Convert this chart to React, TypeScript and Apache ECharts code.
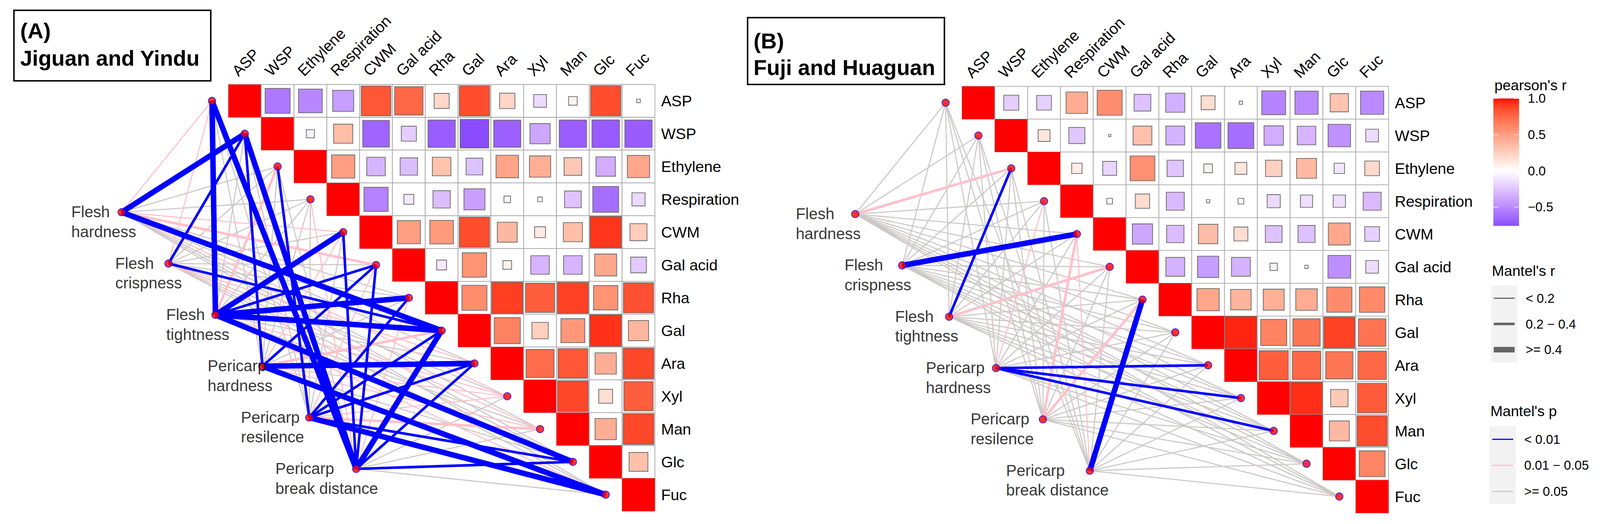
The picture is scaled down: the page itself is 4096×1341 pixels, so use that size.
import React, { useEffect, useRef } from 'react';
import * as echarts from 'echarts';

// ---------------- data ----------------
const VARS = ['ASP', 'WSP', 'Ethylene', 'Respiration', 'CWM', 'Gal acid', 'Rha', 'Gal', 'Ara', 'Xyl', 'Man', 'Glc', 'Fuc'];
const TRAITS = ['Flesh\nhardness', 'Flesh\ncrispness', 'Flesh\ntightness', 'Pericarp\nhardness', 'Pericarp\nresilence', 'Pericarp\nbreak distance'];

// upper triangle of Pearson's r (row i, columns i+1..12)
const CORR_A = [
  [-0.58, -0.52, -0.41, 0.82, 0.75, 0.21, 0.85, 0.22, -0.15, 0.07, 0.85, 0.012],
  [-0.06, 0.34, -0.66, -0.21, -0.69, -0.76, -0.68, -0.38, -0.69, -0.70, -0.69],
  [0.50, -0.32, -0.28, 0.32, -0.26, 0.47, 0.42, 0.29, -0.35, 0.46],
  [-0.54, -0.09, -0.28, -0.41, -0.04, 0.02, -0.26, -0.62, -0.16],
  [0.50, 0.52, 0.85, 0.37, 0.11, 0.34, 0.92, 0.27],
  [-0.09, 0.55, 0.07, -0.32, -0.32, 0.45, -0.23],
  [0.58, 0.90, 0.79, 0.89, 0.55, 0.84],
  [0.63, 0.25, 0.53, 0.93, 0.38],
  [0.73, 0.82, 0.42, 0.87],
  [0.87, 0.18, 0.79],
  [0.42, 0.87],
  [0.33],
];
const CORR_B = [
  [-0.21, -0.20, 0.43, 0.58, -0.26, -0.34, 0.18, 0.01, -0.53, -0.50, 0.31, -0.50],
  [0.13, -0.24, 0.005, 0.33, -0.33, -0.61, -0.62, -0.35, -0.32, -0.47, -0.15],
  [0.10, -0.18, 0.57, -0.25, 0.07, 0.13, 0.25, 0.37, -0.10, 0.2],
  [0.03, 0.19, -0.30, 0.01, 0.03, -0.16, -0.14, -0.14, -0.30],
  [-0.38, -0.28, 0.35, 0.18, -0.26, -0.27, 0.45, -0.20],
  [-0.33, -0.42, -0.33, -0.05, 0.01, -0.48, -0.15],
  [0.46, 0.39, 0.41, 0.43, 0.59, 0.60],
  [0.96, 0.63, 0.69, 0.89, 0.70],
  [0.79, 0.75, 0.69, 0.75],
  [0.94, 0.28, 0.80],
  [0.37, 0.85],
  [0.62],
];

// Mantel's p class per trait x variable: b = < 0.01, p = 0.01 - 0.05, g = >= 0.05
const MANTEL_P_A = [
  'pbggppgbgpggg',
  'pbgggggbpgpgg',
  'bgpgbbbbgpgbp',
  'gbggpbgpbppgb',
  'ggbggpbbbppbb',
  'bbgpbbpbbggbg',
];
// Mantel's r class: 1 = < 0.2, 2 = 0.2 - 0.4, 3 = >= 0.4
const MANTEL_R_A = [
  '1311121311111',
  '1211111211111',
  '3121323311131',
  '1211121231113',
  '1121112221223',
  '3311221321121',
];
const MANTEL_P_B = [
  'ggpgggggggggg',
  'ggggbgggggggg',
  'ggbggpggggggg',
  'gggpggggbbbgg',
  'ggggpgpgggggg',
  'ggggpgbgggggg',
];
const MANTEL_R_B = [
  '1121111111111',
  '1111311111111',
  '1121121111111',
  '1111111122211',
  '1111212111111',
  '1111113111111',
];

const PANEL_TAGS = ['(A)', '(B)'];
const PANEL_NAMES = ['Jiguan and Yindu', 'Fuji and Huaguan'];
const CBAR_TICKS = [1.0, 0.5, 0.0, -0.5];
const CBAR_LABELS = ['1.0', '0.5', '0.0', '\u22120.5'];
const R_CLASSES = ['< 0.2', '0.2 \u2212 0.4', '>= 0.4'];
const P_CLASSES = ['< 0.01', '0.01 \u2212 0.05', '>= 0.05'];

// ---------------- styling / layout ----------------
const S = 0.94;
const FONT = 'Liberation Sans, Arial, Helvetica, sans-serif';
const C = 89.35; // cell size (reference px)
const R_MIN = -0.76;
const PURPLE_END = '#8A4CFF';
const P_COLORS = ['#CDC8C8', '#FFC0CB', '#0000FF']; // g, p, b
const R_WIDTHS = [3, 7, 15];

const PANELS = [
  { left: 622, top: 230, box: [38, 28, 536, 192], tagY: 105, nameY: 180, textX: 55,
    labelDx: [-136, -144, -133, -148, -185, -219], corr: CORR_A, mp: MANTEL_P_A, mr: MANTEL_R_A },
  { left: 2620, top: 235, box: [2036, 48, 536, 182], tagY: 132, nameY: 205, textX: 2052,
    labelDx: [-161, -156, -146, -190, -196, -227], corr: CORR_B, mp: MANTEL_P_B, mr: MANTEL_R_B },
];

// ---------------- colour (Lab interpolation like ggplot) ----------------
function toLin(c: number) { c /= 255; return c <= 0.04045 ? c / 12.92 : Math.pow((c + 0.055) / 1.055, 2.4); }
function fromLin(c: number) {
  const v = c <= 0.0031308 ? 12.92 * c : 1.055 * Math.pow(c, 1 / 2.4) - 0.055;
  return Math.round(Math.min(1, Math.max(0, v)) * 255);
}
function hex2lab(hex: string) {
  const n = parseInt(hex.slice(1), 16);
  const r = toLin((n >> 16) & 255), g = toLin((n >> 8) & 255), b = toLin(n & 255);
  const X = (r * 0.4124564 + g * 0.3575761 + b * 0.1804375) / 0.95047;
  const Y = r * 0.2126729 + g * 0.7151522 + b * 0.072175;
  const Z = (r * 0.0193339 + g * 0.119192 + b * 0.9503041) / 1.08883;
  const f = (t: number) => (t > 216 / 24389 ? Math.cbrt(t) : ((24389 / 27) * t + 16) / 116);
  const fx = f(X), fy = f(Y), fz = f(Z);
  return [116 * fy - 16, 500 * (fx - fy), 200 * (fy - fz)];
}
function lab2css(l: number[]) {
  const fy = (l[0] + 16) / 116, fx = fy + l[1] / 500, fz = fy - l[2] / 200;
  const inv = (t: number) => (t * t * t > 216 / 24389 ? t * t * t : (116 * t - 16) / (24389 / 27));
  const X = inv(fx) * 0.95047, Y = inv(fy), Z = inv(fz) * 1.08883;
  const r = 3.2404542 * X - 1.5371385 * Y - 0.4985314 * Z;
  const g = -0.969266 * X + 1.8760108 * Y + 0.041556 * Z;
  const b = 0.0556434 * X - 0.2040259 * Y + 1.0572252 * Z;
  return 'rgb(' + fromLin(r) + ',' + fromLin(g) + ',' + fromLin(b) + ')';
}
const LAB_W = hex2lab('#FFFFFF');
const LAB_R = hex2lab('#FF0000');
const LAB_P = hex2lab(PURPLE_END);
function corrColor(r: number) {
  const end = r >= 0 ? LAB_R : LAB_P;
  const t = r >= 0 ? Math.min(1, r) : Math.min(1, r / R_MIN);
  return lab2css([0, 1, 2].map((i) => LAB_W[i] + (end[i] - LAB_W[i]) * t));
}

// trait node layout (cell units relative to the matrix's top-left corner)
const traitX = (k: number) => -3.255 + 1.43 * k;
const traitY = (k: number) => 3.893 + 1.564 * k;

function buildOption() {
  const grid: any[] = [], xAxis: any[] = [], yAxis: any[] = [], series: any[] = [], graphic: any[] = [];
  PANELS.forEach((P, p) => {
    const gMat = 2 * p, gNet = 2 * p + 1;
    grid.push({ left: P.left * S, top: P.top * S, width: 13 * C * S, height: 13 * C * S });
    grid.push({ left: (P.left - 4 * C) * S, top: P.top * S, width: 17 * C * S, height: 13 * C * S });
    xAxis.push({
      type: 'category', gridIndex: gMat, position: 'top', data: VARS,
      axisLine: { show: false }, axisTick: { show: false }, splitLine: { show: false },
      axisLabel: { show: false },
    });
    yAxis.push({
      type: 'category', gridIndex: gMat, position: 'right', inverse: true, data: VARS,
      axisLine: { show: false }, axisTick: { show: false }, splitLine: { show: false },
      axisLabel: { interval: 0, margin: 17 * S, fontSize: 42 * S, color: '#000', fontFamily: FONT },
    });
    xAxis.push({ type: 'value', gridIndex: gNet, min: -4, max: 13, show: false });
    yAxis.push({ type: 'value', gridIndex: gNet, min: 0, max: 13, inverse: true, show: false });

    // matrix cells
    const cells: any[] = [];
    for (let i = 0; i < 13; i++) {
      cells.push([i, i, 1]);
      for (let j = i + 1; j < 13; j++) cells.push([j, i, P.corr[i][j - i - 1]]);
    }
    series.push({
      type: 'custom', xAxisIndex: gMat, yAxisIndex: gMat, z: 2, data: cells,
      encode: { x: 0, y: 1 },
      renderItem: (params: any, api: any) => {
        const j = api.value(0), i = api.value(1), r = api.value(2);
        const c = api.coord([j, i]);
        const sz = api.size([1, 1]);
        const w = sz[0], h = sz[1];
        const side = Math.sqrt(Math.abs(r)) * w;
        const children: any[] = [
          { type: 'rect', shape: { x: c[0] - w / 2, y: c[1] - h / 2, width: w, height: h },
            style: { fill: '#FFFFFF', stroke: '#A8A8A8', lineWidth: 2 * S } },
        ];
        if (i === j) {
          children.push({ type: 'rect', shape: { x: c[0] - w / 2, y: c[1] - h / 2, width: w, height: h },
            style: { fill: corrColor(r) } });
        } else {
          children.push({ type: 'rect', shape: { x: c[0] - side / 2, y: c[1] - side / 2, width: side, height: side },
            style: { fill: corrColor(r), stroke: '#6A6A6A', lineWidth: 2 * S } });
        }
        return { type: 'group', children };
      },
    });

    // column labels (rotated 45 degrees, placed through the category axis)
    series.push({
      type: 'custom', xAxisIndex: gMat, yAxisIndex: gMat, z: 2, data: VARS.map((v, j) => [j, 0]),
      encode: { x: 0, y: 1 },
      renderItem: (params: any, api: any) => {
        const j = api.value(0);
        const c = api.coord([j, 0]);
        const sz = api.size([1, 1]);
        const top = c[1] - sz[1] / 2;
        return {
          type: 'text', x: c[0] - 13 * S, y: top - 16 * S, rotation: Math.PI / 4,
          style: { text: VARS[j], x: 0, y: 0, fontSize: 42 * S, fontFamily: FONT, fill: '#000',
            align: 'left', verticalAlign: 'bottom' },
        };
      },
    });

    // Mantel links
    const links: any[] = [];
    for (let k = 0; k < 6; k++) {
      for (let j = 0; j < 13; j++) {
        links.push([traitX(k), traitY(k), j - 0.5, j + 0.5, 'gpb'.indexOf(P.mp[k][j]), +P.mr[k][j] - 1]);
      }
    }
    links.sort((a, b) => (a[4] - b[4]) || (a[5] - b[5]));
    series.push({
      type: 'custom', xAxisIndex: gNet, yAxisIndex: gNet, z: 3, data: links,
      encode: { x: [0, 2], y: [1, 3] },
      renderItem: (params: any, api: any) => {
        const a = api.coord([api.value(0), api.value(1)]);
        const b = api.coord([api.value(2), api.value(3)]);
        return { type: 'line', shape: { x1: a[0], y1: a[1], x2: b[0], y2: b[1] },
          style: { stroke: P_COLORS[api.value(4)], lineWidth: R_WIDTHS[api.value(5)] * S, lineCap: 'butt' } };
      },
    });

    // nodes
    const nodes: any[] = [];
    for (let j = 0; j < 13; j++) nodes.push({ value: [j - 0.5, j + 0.5] });
    const LH = 54;
    for (let k = 0; k < 6; k++) {
      nodes.push({
        value: [traitX(k), traitY(k)],
        label: { show: true, formatter: TRAITS[k], position: [(P.labelDx[k] + 10) * S, (10 - LH / 2) * S],
          align: 'left', verticalAlign: 'top', lineHeight: LH * S, fontSize: 43 * S, color: '#000', fontFamily: FONT },
      });
    }
    series.push({
      type: 'scatter', xAxisIndex: gNet, yAxisIndex: gNet, z: 4, data: nodes,
      symbol: 'circle', symbolSize: 20 * S, silent: true,
      itemStyle: { color: '#FF0000', borderColor: '#0000FF', borderWidth: 2 * S },
      label: { show: false },
    });

    // title box
    const [bx, by, bw, bh] = P.box;
    graphic.push({ type: 'rect', shape: { x: bx * S, y: by * S, width: bw * S, height: bh * S },
      style: { fill: 'none', stroke: '#000', lineWidth: 4 * S } });
    graphic.push({ type: 'text', x: P.textX * S, y: (P.tagY - 21) * S,
      style: { text: PANEL_TAGS[p], font: `bold ${60 * S}px ${FONT}`, fill: '#000', align: 'left', verticalAlign: 'middle' } });
    graphic.push({ type: 'text', x: P.textX * S, y: (P.nameY - 21) * S,
      style: { text: PANEL_NAMES[p], font: `bold ${59 * S}px ${FONT}`, fill: '#000', align: 'left', verticalAlign: 'middle' } });
  });

  // ---------- legends ----------
  const txt = (x: number, y: number, t: string, fs: number) => ({
    type: 'text', x: x * S, y: y * S,
    style: { text: t, font: `${fs * S}px ${FONT}`, fill: '#000', align: 'left', verticalAlign: 'middle' },
  });
  const CB = { x: 4067, y: 268, w: 70, h: 347 };
  const stops: any[] = [];
  for (let s = 0; s <= 40; s++) {
    const v = 1 - (s / 40) * (1 - R_MIN);
    stops.push({ offset: s / 40, color: corrColor(v) });
  }
  graphic.push(txt(4070, 232, "pearson's r", 40));
  graphic.push({ type: 'rect', shape: { x: CB.x * S, y: CB.y * S, width: CB.w * S, height: CB.h * S },
    style: { fill: new echarts.graphic.LinearGradient(0, 0, 0, 1, stops) } });
  CBAR_TICKS.forEach((v, i) => {
    const y = CB.y + ((1 - v) / (1 - R_MIN)) * CB.h;
    graphic.push({ type: 'line', shape: { x1: (CB.x + CB.w - 14) * S, y1: y * S, x2: (CB.x + CB.w) * S, y2: y * S },
      style: { stroke: '#FFFFFF', lineWidth: 1.5 * S } });
    graphic.push({ type: 'line', shape: { x1: CB.x * S, y1: y * S, x2: (CB.x + 14) * S, y2: y * S },
      style: { stroke: '#FFFFFF', lineWidth: 1.5 * S } });
    graphic.push(txt(4161, y, CBAR_LABELS[i], 35));
  });

  graphic.push(txt(4063, 737, "Mantel's r", 40));
  graphic.push({ type: 'rect', shape: { x: 4061 * S, y: 777 * S, width: 71 * S, height: 210 * S }, style: { fill: '#F2F2F2' } });
  R_CLASSES.forEach((t, i) => {
    const y = 812 + 70 * i;
    graphic.push({ type: 'line', shape: { x1: 4068 * S, y1: y * S, x2: 4125 * S, y2: y * S },
      style: { stroke: '#666666', lineWidth: R_WIDTHS[i] * S } });
    graphic.push(txt(4155, y, t, 35));
  });

  graphic.push(txt(4059, 1119, "Mantel's p", 40));
  graphic.push({ type: 'rect', shape: { x: 4057 * S, y: 1160 * S, width: 71 * S, height: 212 * S }, style: { fill: '#F2F2F2' } });
  P_CLASSES.forEach((t, i) => {
    const y = 1196 + 71 * i;
    graphic.push({ type: 'line', shape: { x1: 4064 * S, y1: y * S, x2: 4121 * S, y2: y * S },
      style: { stroke: P_COLORS[2 - i], lineWidth: R_WIDTHS[0] * S } });
    graphic.push(txt(4151, y, t, 35));
  });

  return { animation: false, backgroundColor: '#FFFFFF', grid, xAxis, yAxis, series, graphic };
}

export default function App() {
  const ref = useRef<HTMLDivElement>(null);
  useEffect(() => {
    if (!ref.current) return;
    const chart = echarts.init(ref.current, undefined, { renderer: 'svg' });
    chart.setOption(buildOption() as any);
    return () => chart.dispose();
  }, []);
  return <div ref={ref} style={{ position: 'fixed', left: 0, top: 0, width: 4096, height: 1341, background: '#fff' }} />;
}
